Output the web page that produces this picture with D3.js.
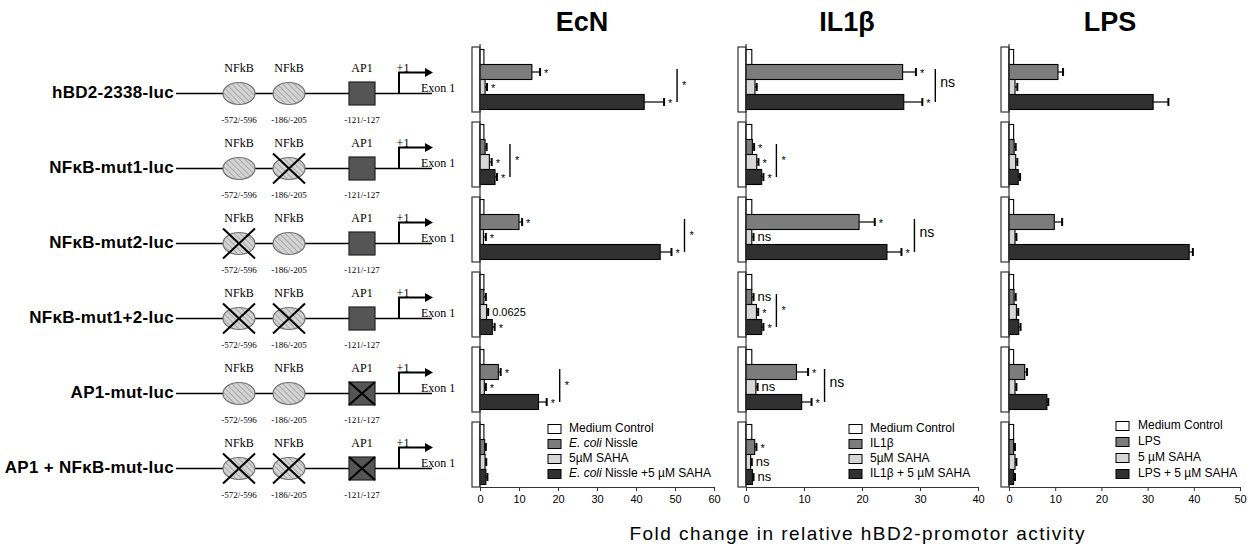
<!DOCTYPE html>
<html>
<head>
<meta charset="utf-8">
<script src="https://cdn.jsdelivr.net/npm/d3@7"></script>
<style>
body { margin: 0; background: #fff; }
</style>
</head>
<body>
<div id="chart"></div>
<script>
// constructs (rows), shared by the promoter sketch and the three bar panels
const constructs = ["hBD2-2338-luc", "NFκB-mut1-luc", "NFκB-mut2-luc", "NFκB-mut1+2-luc", "AP1-mut-luc", "AP1 + NFκB-mut-luc"];
// which element is mutated in each construct: [NFkB -572, NFkB -186, AP1]
const mutations = [[0, 0, 0], [0, 1, 0], [1, 0, 0], [1, 1, 0], [0, 0, 1], [1, 1, 1]];
const elementNames = ["NFkB", "NFkB", "AP1"];
const elementSites = ["-572/-596", "-186/-205", "-121/-127"];

// bars per row: medium control, stimulus, SAHA, stimulus + SAHA
const ecnValues = [[1, 13.3, 1.3, 42.1], [1, 1.3, 2.4, 3.85], [1, 10.0, 0.9, 46.2], [1, 1.0, 1.7, 3.15], [1, 4.7, 1.1, 15.0], [1, 1.2, 1.3, 1.5]];
const ecnErrors = [[0, 2.1, 0.5, 5.1], [0, 0.4, 0.6, 0.5], [0, 0.8, 0.6, 2.9], [0, 0.5, 0.4, 0.6], [0, 0.6, 0.4, 2.1], [0, 0.3, 0.3, 0.4]];
const ecnMarks = [["", "*", "*", "*"], ["", "", "*", "*"], ["", "*", "*", "*"], ["", "", "0.0625", "*"], ["", "*", "*", "*"], ["", "", "", ""]];
const ecnBrackets = ["*", "*", "*", "", "*", ""];
const ecnLegend = ["Medium Control", "<i>E. coli</i> Nissle", "5µM SAHA", "<i>E. coli</i> Nissle +5 µM SAHA"];
const ecnTicks = [0, 10, 20, 30, 40, 50, 60];

const ilValues = [[1, 27.0, 1.55, 27.2], [1, 1.1, 1.85, 2.7], [1, 19.5, 1.0, 24.3], [1, 1.0, 1.8, 2.7], [1, 8.7, 1.7, 9.6], [1, 1.5, 0.8, 1.1]];
const ilErrors = [[0, 2.3, 0.3, 3.2], [0, 0.3, 0.3, 0.3], [0, 2.7, 0.3, 2.5], [0, 0.3, 0.3, 0.3], [0, 2.0, 0.3, 1.7], [0, 0.3, 0.2, 0.2]];
const ilMarks = [["", "*", "", "*"], ["", "*", "*", "*"], ["", "*", "ns", "*"], ["", "ns", "*", "*"], ["", "*", "ns", "*"], ["", "*", "ns", "ns"]];
const ilBrackets = ["ns", "*", "ns", "*", "ns", ""];
const ilLegend = ["Medium Control", "IL1β", "5µM SAHA", "IL1β + 5 µM SAHA"];
const ilTicks = [0, 10, 20, 30, 40];

const lpsValues = [[1, 10.6, 1.3, 31.2], [1, 1.1, 1.45, 2.0], [1, 9.8, 1.3, 39.0], [1, 1.1, 1.6, 2.1], [1, 3.4, 1.3, 8.2], [1, 1.0, 1.3, 1.0]];
const lpsErrors = [[0, 1.1, 0.5, 3.3], [0, 0.35, 0.35, 0.4], [0, 1.7, 0.3, 0.8], [0, 0.35, 0.4, 0.4], [0, 0.5, 0.3, 0.3], [0, 0.3, 0.3, 0.3]];
const lpsLegend = ["Medium Control", "LPS", "5 µM SAHA", "LPS + 5 µM SAHA"];
const lpsTicks = [0, 10, 20, 30, 40, 50];

const barColors = ["#ffffff", "#7c7c7c", "#d6d6d6", "#303030"];
const sans = "Arial, 'Liberation Sans', sans-serif";
const serif = "'Times New Roman', 'Liberation Serif', serif";

const svg = d3.select("#chart").append("svg")
	.attr("width", 1259)
	.attr("height", 546)
	.style("display", "block");

let defs = svg.append("defs");
let hatch = defs.append("pattern")
	.attr("id", "hatch")
	.attr("patternUnits", "userSpaceOnUse")
	.attr("width", 4).attr("height", 4)
	.attr("patternTransform", "rotate(-45)");
hatch.append("rect").attr("width", 4).attr("height", 4).attr("fill", "#d4d4d4");
hatch.append("line").attr("x1", 0).attr("y1", 0).attr("x2", 0).attr("y2", 4)
	.attr("stroke", "#8a8a8a").attr("stroke-width", 1.2);

// rows: 75px step, 65px tall band
const rowY = d3.scaleBand().domain(constructs).range([47, 487]).paddingInner(10 / 75).paddingOuter(0);
const barY = d3.scaleBand().domain(d3.range(4)).range([2.5, 62.5]);
const axisY = 487;

// ---------- promoter sketch ----------
const sketch = svg.append("g");
const elemX = [239, 289, 362];

constructs.forEach((name, i) => {
	let y = rowY(name) + rowY.bandwidth() / 2 + 14;
	let g = sketch.append("g");

	g.append("text")
		.attr("x", 174).attr("y", y)
		.attr("text-anchor", "end")
		.attr("dominant-baseline", "middle")
		.style("font", "bold 17px " + sans)
		.style("letter-spacing", "0.3px")
		.text(name);

	g.append("line")
		.attr("x1", 176).attr("x2", 432)
		.attr("y1", y).attr("y2", y)
		.attr("stroke", "#000").attr("stroke-width", 1.3);

	elemX.forEach((cx, k) => {
		if (k < 2) {
			g.append("ellipse")
				.attr("cx", cx).attr("cy", y).attr("rx", 16).attr("ry", 11)
				.attr("fill", "url(#hatch)").attr("stroke", "#707070").attr("stroke-width", 1.2);
		} else {
			g.append("rect")
				.attr("x", cx - 13).attr("y", y - 11.5).attr("width", 26).attr("height", 23)
				.attr("fill", "#555").attr("stroke", "#222").attr("stroke-width", 1.2);
		}
		if (mutations[i][k]) {
			let dx = k < 2 ? 16 : 13, dy = k < 2 ? 15 : 11.5;
			g.append("path")
				.attr("d", `M${cx - dx},${y - dy}L${cx + dx},${y + dy}M${cx - dx},${y + dy}L${cx + dx},${y - dy}`)
				.attr("stroke", "#000").attr("stroke-width", 2).attr("fill", "none");
		}
		g.append("text")
			.attr("x", cx).attr("y", y - 22)
			.attr("text-anchor", "middle")
			.style("font", "12px " + serif)
			.text(elementNames[k]);
		g.append("text")
			.attr("x", cx).attr("y", y + 29)
			.attr("text-anchor", "middle")
			.style("font", "9px " + serif)
			.text(elementSites[k]);
	});

	g.append("path")
		.attr("d", `M399,${y}V${y - 21}H427`)
		.attr("stroke", "#000").attr("stroke-width", 2).attr("fill", "none");
	g.append("path")
		.attr("d", `M425,${y - 25.5}L433,${y - 21}L425,${y - 16.5}Z`)
		.attr("fill", "#000");
	g.append("text")
		.attr("x", 403).attr("y", y - 22)
		.attr("text-anchor", "middle")
		.style("font", "12px " + serif)
		.text("+1");
	g.append("text")
		.attr("x", 421).attr("y", y - 2)
		.style("font", "12px " + serif)
		.text("Exon 1");
});

// ---------- bar panels ----------
function legendText(sel, label) {
	label.split(/(<i>.*?<\/i>)/).filter(s => s.length).forEach(part => {
		let it = part.startsWith("<i>");
		sel.append("tspan")
			.style("font-style", it ? "italic" : "normal")
			.text(it ? part.slice(3, -4) : part);
	});
}

function drawPanel(opt) {
	let x = d3.scaleLinear().domain([0, opt.ticks[opt.ticks.length - 1]]).range(opt.range);
	let x0 = x(0);
	let g = svg.append("g");

	g.append("text")
		.attr("x", opt.titleX).attr("y", 31)
		.attr("text-anchor", "middle")
		.style("font", "bold 27px " + sans)
		.text(opt.title);

	// white frame left of the axis for every row
	g.selectAll(".frame").data(constructs).enter()
		.append("rect")
			.attr("x", x0 - 8).attr("y", d => rowY(d))
			.attr("width", 8).attr("height", rowY.bandwidth())
			.attr("fill", "#fff").attr("stroke", "#333").attr("stroke-width", 1.2);

	constructs.forEach((c, i) => {
		let top = rowY(c);
		let vals = opt.values[i], errs = opt.errors[i];
		let marks = opt.marks ? opt.marks[i] : ["", "", "", ""];
		let rows = vals.map((v, j) => ({ v: v, e: errs[j], m: marks[j], j: j }));
		let rg = g.append("g").attr("transform", "translate(0," + top + ")");

		rg.selectAll(".bar").data(rows).enter()
			.append("rect")
				.attr("x", x0).attr("y", d => barY(d.j))
				.attr("width", d => x(d.v) - x0).attr("height", barY.bandwidth())
				.attr("fill", d => barColors[d.j]).attr("stroke", "#000").attr("stroke-width", 1.1);

		let eb = rows.filter(d => d.e > 0);
		rg.selectAll(".err").data(eb).enter()
			.append("line")
				.attr("x1", d => x(d.v)).attr("x2", d => x(d.v + d.e))
				.attr("y1", d => barY(d.j) + barY.bandwidth() / 2)
				.attr("y2", d => barY(d.j) + barY.bandwidth() / 2)
				.attr("stroke", "#000").attr("stroke-width", 1.2);
		rg.selectAll(".cap").data(eb).enter()
			.append("line")
				.attr("x1", d => x(d.v + d.e)).attr("x2", d => x(d.v + d.e))
				.attr("y1", d => barY(d.j) + barY.bandwidth() / 2 - 4)
				.attr("y2", d => barY(d.j) + barY.bandwidth() / 2 + 4)
				.attr("stroke", "#000").attr("stroke-width", 2);

		rg.selectAll(".mark").data(rows.filter(d => d.m)).enter()
			.append("text")
				.attr("x", d => x(d.v + d.e) + 4)
				.attr("y", d => barY(d.j) + barY.bandwidth() / 2 + (d.m === "*" ? 5 : 4))
				.style("font", d => (d.m === "ns" ? "13px " : "11px ") + sans)
				.text(d => d.m);

		let br = opt.brackets ? opt.brackets[i] : "";
		if (br) {
			let bx = d3.max(rows, d => x(d.v + d.e) + (d.m === "*" ? 6 : d.m ? 14 : 0)) + 7;
			rg.append("line")
				.attr("x1", bx).attr("x2", bx)
				.attr("y1", barY(1) + barY.bandwidth() / 2 - 3)
				.attr("y2", barY(3) + barY.bandwidth() / 2)
				.attr("stroke", "#000").attr("stroke-width", 1.4);
			rg.append("text")
				.attr("x", bx + 5)
				.attr("y", barY(2) + barY.bandwidth() / 2 + (br === "*" ? 2 : 0))
				.style("font", (br === "*" ? "11px " : "14px ") + sans)
				.text(br);
		}
	});

	// axes
	g.append("line")
		.attr("x1", x0).attr("x2", x0).attr("y1", 44).attr("y2", axisY)
		.attr("stroke", "#333").attr("stroke-width", 1.2);
	let ax = g.append("g")
		.attr("transform", "translate(0," + axisY + ")")
		.call(d3.axisBottom(x).tickValues(opt.ticks).tickSize(4).tickSizeOuter(0).tickFormat(d3.format("d")));
	ax.select(".domain").attr("stroke", "#333").attr("stroke-width", 1.2);
	ax.selectAll(".tick line").attr("stroke", "#333");
	ax.selectAll("text").style("font", "11px " + sans).attr("fill", "#000").attr("y", 6).attr("dy", "0.9em");

	// legend
	let lg = g.selectAll(".leg").data(opt.legend).enter()
		.append("g")
			.attr("transform", (d, j) => "translate(" + opt.legendX + "," + (opt.legendY + j * opt.legendStep) + ")");
	lg.append("rect")
		.attr("x", 0).attr("y", -4.5).attr("width", 13).attr("height", 9)
		.attr("fill", (d, j) => barColors[j]).attr("stroke", "#000").attr("stroke-width", 1);
	lg.append("text")
		.attr("x", opt.legendText).attr("y", 0)
		.attr("dominant-baseline", "middle")
		.style("font", "12px " + sans)
		.each(function (d) { legendText(d3.select(this), d); });
}

drawPanel({ title: "EcN", titleX: 582, values: ecnValues, errors: ecnErrors, marks: ecnMarks, brackets: ecnBrackets,
	legend: ecnLegend, ticks: ecnTicks, range: [480, 714], legendX: 548, legendText: 21, legendY: 429, legendStep: 15 });
drawPanel({ title: "IL1β", titleX: 847, values: ilValues, errors: ilErrors, marks: ilMarks, brackets: ilBrackets,
	legend: ilLegend, ticks: ilTicks, range: [746, 978], legendX: 849, legendText: 21, legendY: 429, legendStep: 15 });
drawPanel({ title: "LPS", titleX: 1110, values: lpsValues, errors: lpsErrors,
	legend: lpsLegend, ticks: lpsTicks, range: [1009, 1240], legendX: 1116, legendText: 22, legendY: 426, legendStep: 16 });

svg.append("text")
	.attr("x", 857).attr("y", 540)
	.attr("text-anchor", "middle")
	.attr("textLength", 455)
	.attr("lengthAdjust", "spacing")
	.style("font", "19px " + sans)
	.text("Fold change in relative hBD2-promotor activity");
</script>
</body>
</html>
